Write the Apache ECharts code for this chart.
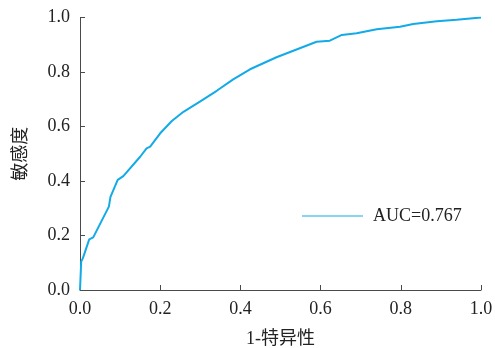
<!DOCTYPE html>
<html>
<head>
<meta charset="utf-8">
<script src="https://cdn.jsdelivr.net/npm/echarts@6/dist/echarts.min.js"></script>
<style>
    html, body { margin: 0; padding: 0; background: #fff; }
    #chart { width: 495px; height: 348px; }
</style>
</head>
<body>
<div id="chart"></div>
<script>
    // ROC 曲线数据 (1-特异性, 敏感度)
    var fpr = [0, 0.002, 0.003, 0.007, 0.023, 0.033, 0.072, 0.076, 0.094, 0.108, 0.150, 0.166,
        0.175, 0.200, 0.229, 0.258, 0.299, 0.341, 0.382, 0.424, 0.457, 0.490, 0.532, 0.590,
        0.623, 0.653, 0.690, 0.740, 0.798, 0.831, 0.890, 0.939, 1.0];
    var tpr = [0, 0, 0.104, 0.116, 0.186, 0.193, 0.306, 0.342, 0.404, 0.418, 0.489, 0.520,
        0.526, 0.575, 0.620, 0.654, 0.691, 0.731, 0.773, 0.810, 0.832, 0.854, 0.878, 0.911,
        0.915, 0.936, 0.942, 0.957, 0.966, 0.976, 0.986, 0.992, 1.0];
    var xTicks = ['0.0', '0.2', '0.4', '0.6', '0.8', '1.0'];
    var seriesName = 'AUC=0.767';

    var serif = '"Liberation Serif", "Noto Sans CJK SC", serif';
    var axisColor = '#4a4a4a';
    var textColor = '#222';

    var points = fpr.map(function (x, i) { return [x, tpr[i]]; });

    var chart = echarts.init(document.getElementById('chart'));
    chart.setOption({
        animation: false,
        grid: { left: 80, top: 17.5, width: 401, height: 272.5, outerBoundsMode: 'none' },
        legend: {
            data: [seriesName],
            left: 297,
            top: 202,
            itemWidth: 61,
            itemHeight: 10,
            icon: 'path://M0,4.4 L61,4.4 L61,5.6 L0,5.6 Z',
            textStyle: { fontFamily: serif, fontSize: 18, color: textColor, padding: [0, 0, 0, 5] }
        },
        xAxis: {
            type: 'value',
            min: 0,
            max: 1,
            interval: 0.2,
            name: '1-特异性',
            nameLocation: 'middle',
            nameGap: 40,
            nameTextStyle: { fontFamily: serif, fontSize: 18, color: textColor },
            axisLine: { lineStyle: { color: axisColor, width: 1 } },
            axisTick: { inside: true, length: 5, lineStyle: { color: axisColor } },
            axisLabel: {
                fontFamily: serif, fontSize: 18, color: textColor, margin: 10,
                formatter: function (v) { return xTicks[Math.round(v / 0.2)]; }
            },
            splitLine: { show: false }
        },
        yAxis: {
            type: 'value',
            min: 0,
            max: 1,
            interval: 0.2,
            name: '敏感度',
            nameLocation: 'middle',
            nameGap: 50,
            nameRotate: 90,
            nameTextStyle: { fontFamily: serif, fontSize: 18, color: textColor },
            axisLine: { show: true, lineStyle: { color: axisColor, width: 1 } },
            axisTick: { show: true, inside: true, length: 5, lineStyle: { color: axisColor } },
            axisLabel: {
                fontFamily: serif, fontSize: 18, color: textColor, margin: 10,
                formatter: function (v) { return v.toFixed(1); }
            },
            splitLine: { show: false }
        },
        series: [{
            name: seriesName,
            type: 'line',
            data: points,
            showSymbol: false,
            smooth: false,
            lineStyle: { color: '#13aae8', width: 2 },
            itemStyle: { color: '#13aae8' }
        }]
    });
</script>
</body>
</html>
